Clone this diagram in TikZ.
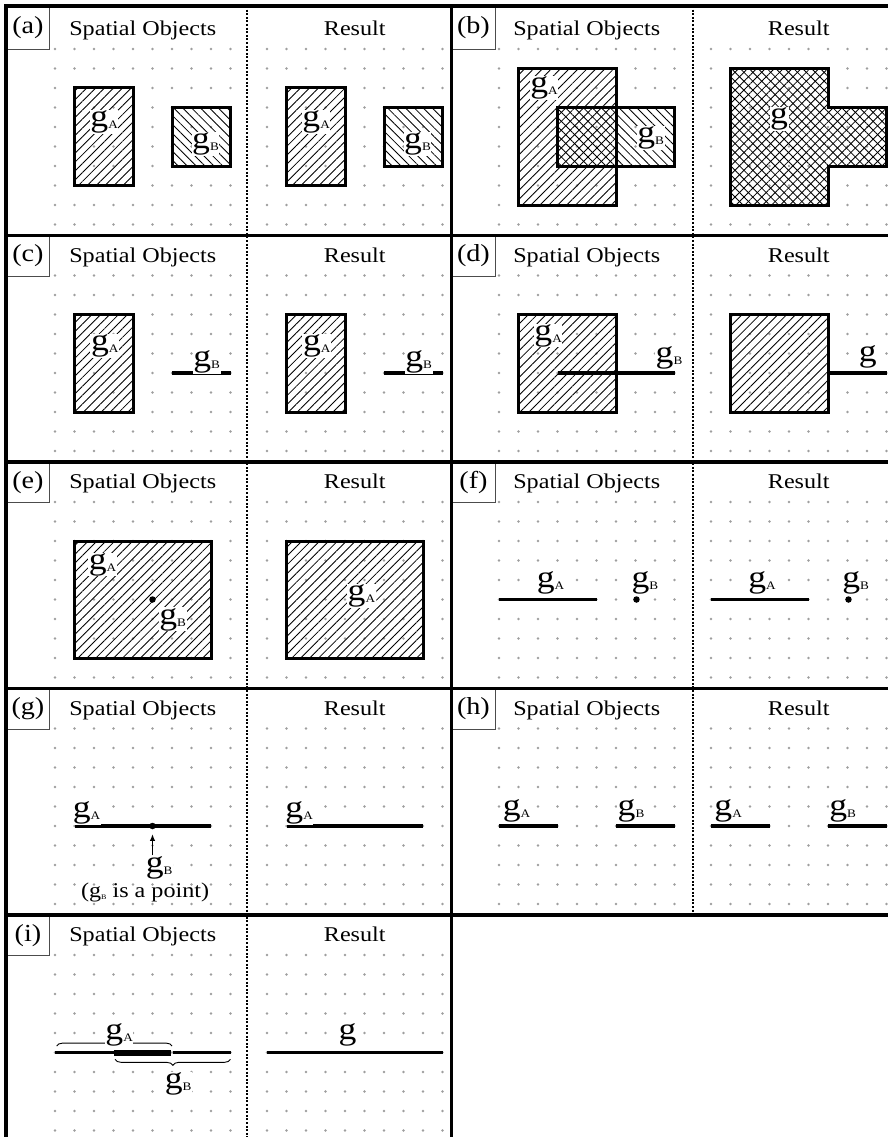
\documentclass[tikz,border=0pt]{standalone}
\usepackage{fontspec}
\setmainfont{Liberation Serif}[FakeStretch=1.15]
\usetikzlibrary{arrows.meta,calc,patterns.meta,decorations.pathreplacing}
\definecolor{DotClr}{rgb}{0.62,0.62,0.62}
\definecolor{BoxClr}{rgb}{0.3,0.3,0.3}

\newcommand\DotGrid{%
  \foreach \i in {0,...,9}{%
    \foreach \j in {0,...,9}{\fill[DotClr] (\i,\j) circle[radius=1.3pt];}}}
\newcommand\gsub[1]{{\fontsize{31}{31}\selectfont g}%
  \raisebox{-2pt}{\fontsize{11.5}{11.5}\selectfont #1}}

\begin{document}
\begin{tikzpicture}[x=1pt,y=-1pt,
  frameline/.style={line width=3.2pt,line cap=rect},
  halfline/.style={line width=1.8pt,dash pattern=on 2pt off 1.6pt},
  tagbox/.style={draw=BoxClr,line width=0.9pt,anchor=north west,
    minimum width=43pt,inner sep=0pt,font=\fontsize{24.5}{24.5}\selectfont},
  headline/.style={anchor=base,font=\fontsize{21}{21}\selectfont},
  glabel/.style={fill=white,inner sep=0.6pt},
  shapeline/.style={line width=3pt},
  lineobj/.style={line width=3.3pt},
  hatchA/.style={pattern={Lines[angle=45,distance=6.3pt,line width=0.85pt]}},
  hatchB/.style={pattern={Lines[angle=-45,distance=6.3pt,line width=0.85pt]}},
  pointobj/.style={circle,fill=black,inner sep=0pt,minimum size=6.5pt},
  half/.style={x=19.5pt,y=-19.5pt}]
\clip (0,0) rectangle (888,1137);

% (a)
\begin{scope}[shift={(55,49)},half]
\DotGrid
\node[headline] (aLhead) at (4.5,-0.67) {Spatial Objects};
\draw[shapeline,hatchA] (1,2) rectangle (4,7);
\draw[shapeline,hatchB] (6,3) rectangle (9,6);
\node[glabel] (aLgA) at (2.52,3.73) {\gsub{A}};
\node[glabel] (aLgB) at (7.72,4.87) {\gsub{B}};
\end{scope}
\begin{scope}[shift={(267,49)},half]
\DotGrid
\node[headline] (aRhead) at (4.5,-0.67) {Result};
\draw[shapeline,hatchA] (1,2) rectangle (4,7);
\draw[shapeline,hatchB] (6,3) rectangle (9,6);
\node[glabel] (aRgA) at (2.52,3.73) {\gsub{A}};
\node[glabel] (aRgB) at (7.72,4.87) {\gsub{B}};
\end{scope}

% (b)
\begin{scope}[shift={(499,49)},half]
\DotGrid
\node[headline] (bLhead) at (4.5,-0.67) {Spatial Objects};
\draw[shapeline,hatchA] (1,1) rectangle (6,8);
\draw[shapeline,hatchB] (3,3) rectangle (9,6);
\node[glabel] (bLgA) at (2.31,2.02) {\gsub{A}};
\node[glabel] (bLgB) at (7.78,4.57) {\gsub{B}};
\end{scope}
\begin{scope}[shift={(711,49)},half]
\DotGrid
\node[headline] (bRhead) at (4.5,-0.67) {Result};
\fill[hatchA] (1,1) -| (6,3) -| (9,6) -| (6,8) -| cycle;
\draw[shapeline,hatchB] (1,1) -| (6,3) -| (9,6) -| (6,8) -| cycle;
\node[glabel] (bRg) at (3.49,3.6) {\gsub{}};
\end{scope}

% (c)
\begin{scope}[shift={(55,275.5)},half]
\DotGrid
\node[headline] (cLhead) at (4.5,-0.67) {Spatial Objects};
\draw[shapeline,hatchA] (1,2) rectangle (4,7);
\draw[lineobj] (6,5) -- (9,5);
\node[glabel] (cLgA) at (2.55,3.62) {\gsub{A}};
\node[glabel] (cLgB) at (7.78,4.43) {\gsub{B}};
\end{scope}
\begin{scope}[shift={(267,275.5)},half]
\DotGrid
\node[headline] (cRhead) at (4.5,-0.67) {Result};
\draw[shapeline,hatchA] (1,2) rectangle (4,7);
\draw[lineobj] (6,5) -- (9,5);
\node[glabel] (cRgA) at (2.55,3.62) {\gsub{A}};
\node[glabel] (cRgB) at (7.78,4.43) {\gsub{B}};
\end{scope}

% (d)
\begin{scope}[shift={(499,275.5)},half]
\DotGrid
\node[headline] (dLhead) at (4.5,-0.67) {Spatial Objects};
\draw[shapeline,hatchA] (1,2) rectangle (6,7);
\draw[lineobj] (3,5) -- (9,5);
\node[glabel] (dLgA) at (2.52,3.08) {\gsub{A}};
\node[glabel] (dLgB) at (8.72,4.2) {\gsub{B}};
\end{scope}
\begin{scope}[shift={(711,275.5)},half]
\DotGrid
\node[headline] (dRhead) at (4.5,-0.67) {Result};
\draw[shapeline,hatchA] (1,2) rectangle (6,7);
\draw[lineobj] (6,5) -- (9,5);
\node[glabel] (dRg) at (8.04,4.16) {\gsub{}};
\end{scope}

% (e)
\begin{scope}[shift={(55,502)},half]
\DotGrid
\node[headline] (eLhead) at (4.5,-0.67) {Spatial Objects};
\draw[shapeline,hatchA] (1,2) rectangle (8,8);
\node[glabel] (eLgA) at (2.44,3.2) {\gsub{A}};
\node[glabel] (eLgB) at (6.03,6.02) {\gsub{B}};
\node[pointobj] (eLpt) at (5,5) {};
\end{scope}
\begin{scope}[shift={(267,502)},half]
\DotGrid
\node[headline] (eRhead) at (4.5,-0.67) {Result};
\draw[shapeline,hatchA] (1,2) rectangle (8,8);
\node[glabel] (eRgA) at (4.84,4.83) {\gsub{A}};
\end{scope}

% (f)
\begin{scope}[shift={(499,502)},half]
\DotGrid
\node[headline] (fLhead) at (4.5,-0.67) {Spatial Objects};
\draw[lineobj] (0,5) -- (5,5);
\node[pointobj] (fLpt) at (7.05,5) {};
\node[glabel] (fLgA) at (2.64,4.17) {\gsub{A}};
\node[glabel] (fLgB) at (7.48,4.17) {\gsub{B}};
\end{scope}
\begin{scope}[shift={(711,502)},half]
\DotGrid
\node[headline] (fRhead) at (4.5,-0.67) {Result};
\draw[lineobj] (0,5) -- (5,5);
\node[pointobj] (fRpt) at (7.05,5) {};
\node[glabel] (fRgA) at (2.62,4.17) {\gsub{A}};
\node[glabel] (fRgB) at (7.42,4.17) {\gsub{B}};
\end{scope}

% (g)
\begin{scope}[shift={(55,728.5)},half]
\DotGrid
\node[headline] (gLhead) at (4.5,-0.67) {Spatial Objects};
\draw[lineobj] (1,5) -- (8,5);
\node[pointobj] (gLpt) at (5,5) {};
\node[glabel] (gLgA) at (1.62,4.33) {\gsub{A}};
\node[glabel] (gLgB) at (5.34,7.13) {\gsub{B}};
\node (gLnote) at (4.62,8.43) {\fontsize{21}{21}\selectfont
  (g\raisebox{-1.5pt}{\fontsize{7}{7}\selectfont B} is a point)};
\draw[line width=1.3pt,-{Latex[length=7pt,width=5.5pt]},shorten >=4.5pt]
  (gLgB.north -| gLpt) -- (gLpt.south);
\end{scope}
\begin{scope}[shift={(267,728.5)},half]
\DotGrid
\node[headline] (gRhead) at (4.5,-0.67) {Result};
\draw[lineobj] (1,5) -- (8,5);
\node[glabel] (gRgA) at (1.65,4.33) {\gsub{A}};
\end{scope}

% (h)
\begin{scope}[shift={(499,728.5)},half]
\DotGrid
\node[headline] (hLhead) at (4.5,-0.67) {Spatial Objects};
\draw[lineobj] (0,5) -- (3,5);
\draw[lineobj] (6,5) -- (9,5);
\node[glabel] (hLgA) at (0.9,4.2) {\gsub{A}};
\node[glabel] (hLgB) at (6.77,4.2) {\gsub{B}};
\end{scope}
\begin{scope}[shift={(711,728.5)},half]
\DotGrid
\node[headline] (hRhead) at (4.5,-0.67) {Result};
\draw[lineobj] (0,5) -- (3,5);
\draw[lineobj] (6,5) -- (9,5);
\node[glabel] (hRgA) at (0.88,4.2) {\gsub{A}};
\node[glabel] (hRgB) at (6.75,4.2) {\gsub{B}};
\end{scope}

% (i)
\begin{scope}[shift={(55,955)},half]
\DotGrid
\node[headline] (iLhead) at (4.5,-0.67) {Spatial Objects};
\draw[lineobj] (0,5) -- (3,5);
\draw[line width=6pt] (3,5) -- ([xshift=-0.7pt]6,5);
\draw[lineobj] ([xshift=0.7pt]6,5) -- (9,5);
\draw[decorate,decoration={brace,amplitude=6pt},line width=0.9pt]
  (0.09,4.67) -- (6,4.67);
\draw[decorate,decoration={brace,amplitude=6pt,mirror},line width=0.9pt]
  (3.08,5.35) -- (9,5.35);
\node[glabel] (iLgA) at (3.29,4.1) {\gsub{A}};
\node[glabel] (iLgB) at (6.32,6.63) {\gsub{B}};
\end{scope}
\begin{scope}[shift={(267,955)},half]
\DotGrid
\node[headline] (iRhead) at (4.5,-0.67) {Result};
\draw[lineobj] (0,5) -- (9,5);
\node[glabel] (iRg) at (4.13,4.1) {\gsub{}};
\end{scope}

% tags and frame
\foreach \t/\x/\y/\h in {a/6/6/43,b/451.5/6/43,c/6/235.5/40,d/451.5/235.5/40,
  e/6/462/40,f/451.5/462/40,g/6/688.5/40,h/451.5/688.5/40,i/6/915/40}
  \node[tagbox,minimum height=\h pt] (tag\t) at (\x,\y) {(\t)};
\foreach \y in {6,235.5,462,688.5,915}
  \draw[frameline] (6,\y) -- (900,\y);
\draw[frameline] (6,6) -- (6,1140);
\draw[frameline] (451.5,6) -- (451.5,1140);
\draw[halfline] (247,6) -- (247,1140);
\draw[halfline] (693,6) -- (693,915);
\end{tikzpicture}
\end{document}
